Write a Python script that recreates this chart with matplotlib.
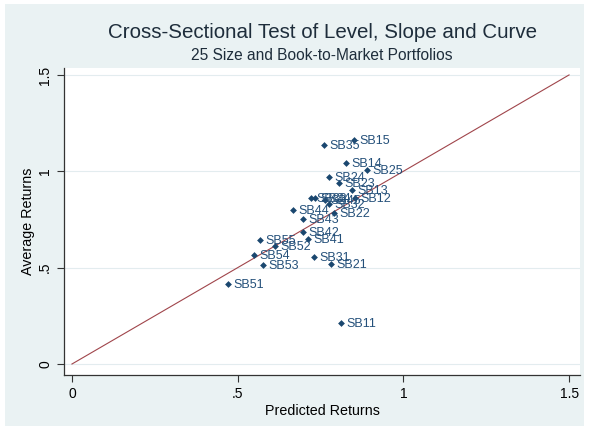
import numpy as np
import matplotlib
matplotlib.use('Agg')
import matplotlib.pyplot as plt
from matplotlib.patches import Rectangle

plt.rcParams['font.family'] = ['Liberation Sans', 'DejaVu Sans']

# portfolio names, predicted and average returns
names = ['SB11', 'SB12', 'SB13', 'SB14', 'SB15',
         'SB21', 'SB22', 'SB23', 'SB24', 'SB25',
         'SB31', 'SB32', 'SB33', 'SB34', 'SB35',
         'SB41', 'SB42', 'SB43', 'SB44', 'SB45',
         'SB51', 'SB52', 'SB53', 'SB54', 'SB55']
predicted = [0.812, 0.854, 0.845, 0.827, 0.851,
             0.782, 0.791, 0.806, 0.776, 0.890,
             0.730, 0.776, 0.721, 0.733, 0.761,
             0.712, 0.697, 0.697, 0.667, 0.764,
             0.471, 0.613, 0.577, 0.549, 0.567]
average = [0.213, 0.861, 0.903, 1.043, 1.162,
           0.519, 0.784, 0.939, 0.970, 1.007,
           0.555, 0.830, 0.861, 0.861, 1.136,
           0.649, 0.685, 0.752, 0.799, 0.851,
           0.415, 0.612, 0.514, 0.566, 0.643]
ticks = [0, 0.5, 1, 1.5]
tick_labels = ['0', '.5', '1', '1.5']

navy = '#1a476f'
bg = '#eaf2f3'

fig = plt.figure(figsize=(5.89, 4.30), dpi=100, facecolor='white')
fig.patches.append(Rectangle((5 / 589, 4 / 430), 579 / 589, 422 / 430,
                             transform=fig.transFigure, facecolor=bg,
                             edgecolor='none', zorder=-10))

ax = fig.add_axes([64 / 589, 55 / 430, 516 / 589, 307 / 430])
ax.set_facecolor('white')

# 45 degree line
ax.plot([0, 1.5], [0, 1.5], color='#a0454b', lw=0.8, zorder=2)

ax.scatter(predicted, average, marker='D', s=12, color=navy, zorder=3,
           linewidths=0)
for n, x, y in zip(names, predicted, average):
    ax.annotate(n, (x, y), xytext=(4, -1), textcoords='offset points',
                va='center', ha='left', fontsize=9, color='#24507a', zorder=4)

ax.set_xlim(-0.024, 1.533)
ax.set_ylim(-0.057, 1.536)
ax.set_xticks(ticks)
ax.set_xticklabels(tick_labels)
ax.set_yticks(ticks)
ax.set_yticklabels(tick_labels, rotation=90, va='center')
ax.grid(axis='y', color='#e3ecef', lw=0.8, zorder=0)
ax.set_axisbelow(True)

for s in ['top', 'right']:
    ax.spines[s].set_visible(False)
for s in ['left', 'bottom']:
    ax.spines[s].set_color('#333333')
    ax.spines[s].set_linewidth(0.9)
ax.tick_params(axis='both', colors='#333333', labelcolor='black',
               labelsize=10, length=5, width=0.8)

ax.set_xlabel('Predicted Returns', fontsize=10.3, labelpad=2)
ax.set_ylabel('Average Returns', fontsize=10.3, labelpad=2)

cx = (64 + 580) / 2 / 589
fig.text(cx, 1 - 32 / 430, 'Cross-Sectional Test of Level, Slope and Curve',
         ha='center', va='center', fontsize=14.8, color='#1e2d3b')
fig.text(cx, 1 - 55 / 430, '25 Size and Book-to-Market Portfolios',
         ha='center', va='center', fontsize=11.2, color='#1e2d3b')

fig.savefig('out.png', dpi=100, facecolor=fig.get_facecolor())
